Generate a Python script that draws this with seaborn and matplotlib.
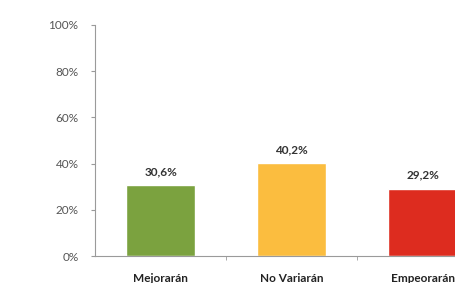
import numpy as np
import pandas as pd
import matplotlib
matplotlib.use('Agg')
import matplotlib.pyplot as plt
import seaborn as sns
from matplotlib.ticker import FixedLocator, PercentFormatter

categories = ['Mejorarán', 'No Variarán', 'Empeorarán']
values = [30.6, 40.2, 29.2]
value_labels = ['30,6%', '40,2%', '29,2%']
colors = ['#7ba23f', '#fbbd3f', '#dd2c1f']

sns.set_style('white')
plt.rcParams['font.family'] = ['Lato', 'DejaVu Sans']

df = pd.DataFrame({'cat': categories, 'val': values})

fig = plt.figure(figsize=(4.55, 2.83), dpi=100)
# axes runs past the right edge, like the cropped original
ax = fig.add_axes([0.209, 0.0954, 0.864, 0.8163])

sns.barplot(data=df, x='cat', y='val', hue='cat', palette=colors,
            legend=False, width=0.53, ax=ax, saturation=1)

ax.set_ylim(0, 100)
ax.set_xlim(-0.5, 2.5)
ax.set_yticks(np.arange(0, 101, 20))
ax.yaxis.set_major_formatter(PercentFormatter(decimals=0))
ax.set_xlabel('')
ax.set_ylabel('')

for i, (v, lab) in enumerate(zip(values, value_labels)):
    ax.text(i, v + 3.5, lab, ha='center', va='bottom', fontsize=8.5,
            fontweight='bold', color='#333333')

for s in ['top', 'right']:
    ax.spines[s].set_visible(False)
for s in ['left', 'bottom']:
    ax.spines[s].set_color('#9a9a9a')
    ax.spines[s].set_linewidth(0.8)

ax.tick_params(axis='y', which='major', left=True, length=3, color='#9a9a9a',
               labelsize=8.5, labelcolor='#555555', pad=9)
ax.tick_params(axis='x', which='major', bottom=False, labelsize=8.5,
               labelcolor='#222222', pad=9)
ax.xaxis.set_minor_locator(FixedLocator([0.5, 1.5]))
ax.tick_params(axis='x', which='minor', bottom=True, length=3,
               color='#9a9a9a')
for t in ax.get_xticklabels():
    t.set_fontweight('bold')

fig.savefig('out.png', dpi=100)
